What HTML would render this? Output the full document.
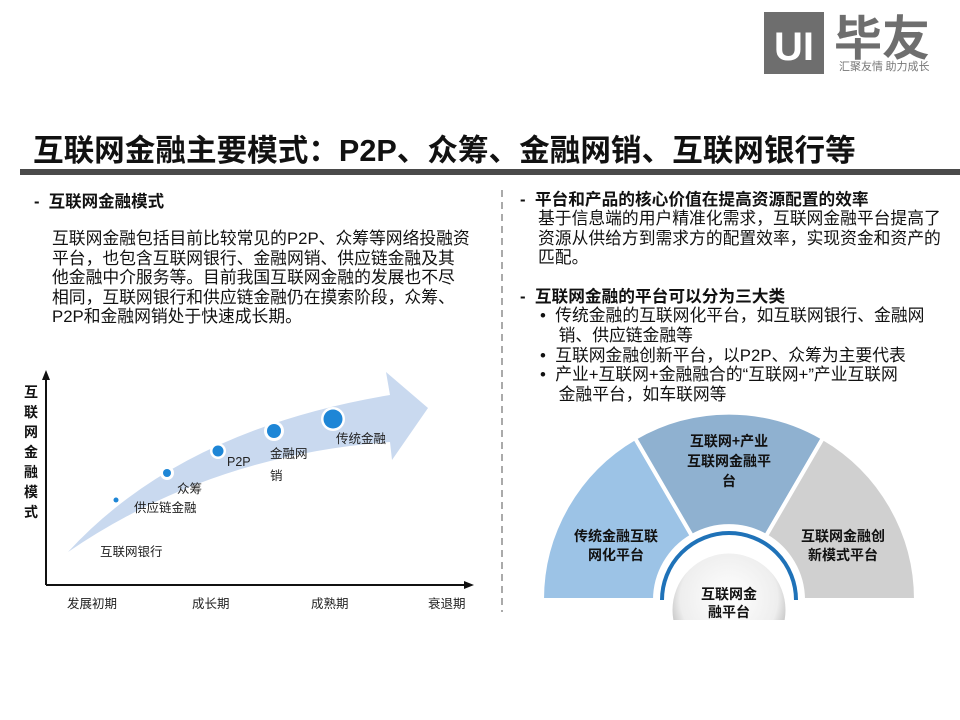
<!DOCTYPE html>
<html><head><meta charset="utf-8"><style>
body{margin:0;width:960px;height:720px;background:#fff;position:relative;overflow:hidden;font-family:"Liberation Sans","Noto Sans CJK SC",sans-serif;color:#111}
.a{position:absolute;white-space:nowrap;line-height:19.6px}
.b{font-weight:bold}
</style></head><body>
<svg width="960" height="720" style="position:absolute;left:0;top:0">
<rect x="764" y="12" width="60" height="62" fill="#6e6e6e"/>
<text x="794" y="60" font-size="40" font-weight="bold" fill="#fff" text-anchor="middle" font-family="Liberation Sans,sans-serif">UI</text>
<text x="834" y="55" font-size="48" font-weight="bold" fill="#6e6e6e" font-family="Noto Sans CJK SC,sans-serif">毕友</text>
<text x="839" y="70" font-size="11" fill="#777" font-family="Noto Sans CJK SC,sans-serif">汇聚友情  助力成长</text>
<rect x="20" y="169" width="940" height="6" fill="#4a4a4a"/>
<line x1="502" y1="190" x2="502" y2="612" stroke="#aaa" stroke-width="2" stroke-dasharray="7,5"/>
<line x1="46" y1="377" x2="46" y2="585" stroke="#111" stroke-width="2"/>
<polygon points="46,370 42,380 50,380" fill="#111"/>
<line x1="46" y1="585" x2="466" y2="585" stroke="#111" stroke-width="2"/>
<polygon points="474,585 464,581 464,589" fill="#111"/>
<path d="M68,552 Q180,430 390,395 L386,372 L428,408 L392,460 L390,442 Q210,455 68,552 Z" fill="#c9d9ef"/>
<g fill="#fff"><circle cx="116" cy="500" r="5"/><circle cx="167" cy="473" r="7"/><circle cx="218" cy="451" r="8"/><circle cx="274" cy="431" r="10"/><circle cx="333" cy="419" r="12"/></g>
<g fill="#1e86d6"><circle cx="116" cy="500" r="2.5"/><circle cx="167" cy="473" r="4"/><circle cx="218" cy="451" r="5.5"/><circle cx="274" cy="431" r="7"/><circle cx="333" cy="419" r="9.5"/></g>
<g font-size="12.5" fill="#222" font-family="Liberation Sans,Noto Sans CJK SC,sans-serif">
<text x="100" y="556">互联网银行</text>
<text x="134" y="512">供应链金融</text>
<text x="177" y="493">众筹</text>
<text x="227" y="466">P2P</text>
<text x="270" y="458">金融网</text>
<text x="270" y="480">销</text>
<text x="336" y="443">传统金融</text>
<text x="67" y="608">发展初期</text>
<text x="192" y="608">成长期</text>
<text x="311" y="608">成熟期</text>
<text x="428" y="608">衰退期</text>
</g>
<g font-size="14" font-weight="bold" fill="#111" font-family="Noto Sans CJK SC,sans-serif" text-anchor="middle">
<text x="31" y="397">互</text><text x="31" y="417">联</text><text x="31" y="437">网</text><text x="31" y="457">金</text><text x="31" y="477">融</text><text x="31" y="497">模</text><text x="31" y="517">式</text>
</g>
<g stroke="#fff" stroke-width="4">
<path d="M542,600 A187,187 0 0 1 635,438 L692,536 A74,74 0 0 0 655,600 Z" fill="#9cc3e6"/>
<path d="M635,438 A187,187 0 0 1 823,438 L766,536 A74,74 0 0 0 692,536 Z" fill="#8fb1d0"/>
<path d="M823,438 A187,187 0 0 1 916,600 L803,600 A74,74 0 0 0 766,536 Z" fill="#d0d0d0"/>
</g>
<path d="M662,600 A67,67 0 0 1 796,600" fill="none" stroke="#1f72b8" stroke-width="4"/>
<defs><radialGradient id="g" cx="50%" cy="40%" r="60%"><stop offset="0" stop-color="#fff"/><stop offset="0.7" stop-color="#eee"/><stop offset="1" stop-color="#aaa"/></radialGradient><clipPath id="c"><rect x="0" y="0" width="960" height="620"/></clipPath></defs>
<circle cx="729" cy="610" r="58" fill="url(#g)" stroke="#fff" stroke-width="3" clip-path="url(#c)"/>
<g font-size="14" font-weight="bold" fill="#111" font-family="Noto Sans CJK SC,sans-serif" text-anchor="middle">
<text x="616" y="541">传统金融互联</text><text x="616" y="560">网化平台</text>
<text x="729" y="446">互联网+产业</text><text x="729" y="466">互联网金融平</text><text x="729" y="486">台</text>
<text x="843" y="541">互联网金融创</text><text x="843" y="560">新模式平台</text>
<text x="729" y="599">互联网金</text><text x="729" y="617">融平台</text>
</g>
</svg>
<div class="a" style="left:33px;top:131px;font-size:30.6px;font-weight:bold;line-height:40px">互联网金融主要模式：P2P、众筹、金融网销、互联网银行等</div>
<div class="a b" style="left:34px;top:193px;font-size:16.5px">-&nbsp;&nbsp;互联网金融模式</div>
<div class="a" style="left:52px;top:229px;font-size:16.8px">互联网金融包括目前比较常见的P2P、众筹等网络投融资<br>平台，也包含互联网银行、金融网销、供应链金融及其<br>他金融中介服务等。目前我国互联网金融的发展也不尽<br>相同，互联网银行和供应链金融仍在摸索阶段，众筹、<br>P2P和金融网销处于快速成长期。</div>
<div class="a b" style="left:520px;top:190px;font-size:16.7px">-&nbsp;&nbsp;平台和产品的核心价值在提高资源配置的效率</div>
<div class="a" style="left:538px;top:209px;font-size:16.8px">基于信息端的用户精准化需求，互联网金融平台提高了<br>资源从供给方到需求方的配置效率，实现资金和资产的<br>匹配。</div>
<div class="a b" style="left:520px;top:287px;font-size:16.7px">-&nbsp;&nbsp;互联网金融的平台可以分为三大类</div>
<div class="a" style="left:540px;top:306px;font-size:16.8px;line-height:19.8px">•&nbsp; 传统金融的互联网化平台，如互联网银行、金融网<br>&nbsp;&nbsp;&nbsp; 销、供应链金融等<br>•&nbsp; 互联网金融创新平台，以P2P、众筹为主要代表<br>•&nbsp; 产业+互联网+金融融合的“互联网+”产业互联网<br>&nbsp;&nbsp;&nbsp; 金融平台，如车联网等</div>
</body></html>
